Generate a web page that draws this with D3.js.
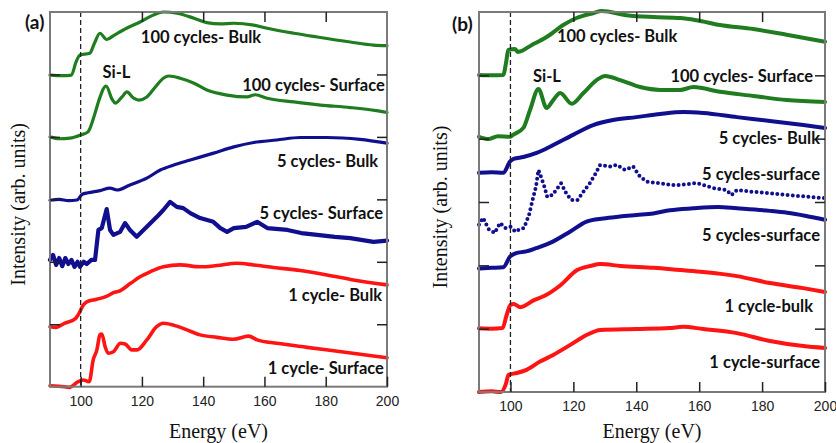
<!DOCTYPE html>
<html>
<head>
<meta charset="utf-8">
<script src="https://cdn.jsdelivr.net/npm/d3@7"></script>
<style>
  body { margin: 0; background: #fff; }
  svg text { font-family: "Liberation Sans", Arial, sans-serif; }
  .lbl { font-family: Lato, "Noto Sans", sans-serif; font-weight: bold; font-size: 16.5px; fill: #111; }
  .ttl { font-family: "Liberation Serif", "Times New Roman", serif; font-size: 20px; fill: #111; }
</style>
</head>
<body>
<svg width="836" height="443"></svg>
<script>
/*global d3*/

// x ticks shared by both panels
var energyTicks = [100, 120, 140, 160, 180, 200];
var intensityTicks = [0, 1, 2, 3, 4, 5, 6];

// ---- panel (a) spectra, [energy eV, intensity arb.]
var aBulk100 = [[90,4.99],[94,4.98],[97,4.99],[98.5,5.2],[99.8,5.31],[103,5.34],[104.5,5.5],[106.3,5.66],[108.5,5.56],[111,5.63],[115,5.74],[119.4,5.84],[123.7,5.95],[127,6.0],[131.5,5.98],[137,5.90],[141.2,5.83],[145.6,5.81],[150,5.82],[156.5,5.79],[160.9,5.74],[169.6,5.66],[177.2,5.60],[188,5.52],[195.6,5.47],[200,5.46]];
var aSurf100 = [[90,4.0],[93,3.97],[96.5,3.98],[100,4.03],[102.4,4.08],[104.7,4.38],[106,4.59],[108.3,4.815],[110.3,4.6],[111.3,4.54],[113.5,4.64],[115.1,4.72],[117.3,4.62],[119,4.59],[121.6,4.64],[124.4,4.80],[127,4.94],[128.8,4.975],[132.5,4.94],[137,4.86],[141.2,4.75],[147.8,4.67],[154.3,4.64],[157,4.675],[160.9,4.62],[169.6,4.56],[178.3,4.51],[188,4.47],[196.5,4.42],[200,4.39]];
var aBulk5 = [[90,2.985],[93,3.0],[96,2.98],[98.8,2.99],[100.5,3.08],[102.4,3.105],[106.3,3.14],[109.6,3.18],[111.8,3.15],[116.1,3.23],[121.6,3.34],[126,3.47],[130.4,3.55],[135.8,3.63],[143.4,3.74],[150,3.84],[156.5,3.91],[164,3.95],[171.7,3.99],[180.4,3.99],[191.2,3.96],[200,3.90]];
var aSurf5 = [[90,2.03],[91,2.11],[92,1.95],[93,2.06],[94,1.93],[95,2.06],[96,1.965],[97,2.03],[98,1.92],[99,2.0],[99.8,1.92],[101,2.0],[102,1.965],[103.5,2.03],[104.7,2.03],[105.8,2.51],[106.9,2.54],[108.5,2.845],[109.6,2.51],[110.7,2.43],[112.9,2.48],[114.5,2.62],[116.1,2.51],[118.3,2.40],[121.6,2.56],[124.9,2.72],[127,2.83],[129.2,2.96],[131.4,2.88],[133.5,2.86],[135.8,2.78],[139,2.70],[143.3,2.64],[145.6,2.54],[147.8,2.48],[150,2.54],[154,2.56],[157.6,2.64],[160.9,2.54],[167.5,2.51],[172,2.46],[177.2,2.43],[183,2.40],[188,2.38],[195.6,2.32],[200,2.34]];
var aBulk1 = [[90,0.96],[92,0.95],[94.7,1.015],[98.2,1.085],[99.2,1.15],[100.9,1.31],[102,1.36],[105.3,1.40],[108.6,1.45],[110.7,1.505],[113,1.54],[116.3,1.655],[119.4,1.76],[122.7,1.84],[127,1.92],[132.5,1.95],[139,1.92],[144.5,1.94],[151,1.976],[156.5,1.95],[163,1.91],[171.7,1.86],[180.4,1.79],[189,1.71],[200,1.63]];
var aSurf1 = [[90,0.016],[94.7,0.0],[96.3,-0.01],[99.2,0.08],[100.9,0.107],[102.8,0.08],[104.1,0.43],[105.3,0.59],[106.3,0.83],[106.9,0.845],[108,0.64],[109,0.535],[110.7,0.56],[113,0.695],[114.5,0.685],[116.7,0.59],[118.4,0.59],[121.6,0.75],[124.8,0.96],[127,1.015],[131.4,0.97],[134.7,0.91],[139,0.83],[144.5,0.79],[149.9,0.76],[154.8,0.81],[157.6,0.75],[164.1,0.695],[173.9,0.63],[182.6,0.575],[191.3,0.52],[200,0.465]];

// ---- panel (b) spectra
var bBulk100 = [[90,5.005],[94,5.0],[97.7,5.005],[98.6,5.2],[99.3,5.40],[101.4,5.415],[102.4,5.37],[106.8,5.48],[111.5,5.605],[116.8,5.795],[121,5.905],[126.5,5.985],[129,6.016],[136.9,5.95],[145.4,5.92],[153.9,5.905],[159.2,5.87],[166.6,5.795],[177.2,5.73],[187.8,5.64],[200,5.53]];
var bSurf100 = [[90,4.03],[93,3.995],[96,4.04],[100,4.03],[100.8,4.06],[104.1,4.17],[106.2,4.45],[108.9,4.785],[111.5,4.485],[113.6,4.61],[115.8,4.72],[119.5,4.55],[123.2,4.72],[127.4,4.925],[130.1,4.99],[134.9,4.925],[141.2,4.815],[147.6,4.77],[153.9,4.77],[158.2,4.815],[166.6,4.74],[177.2,4.675],[187.8,4.61],[200,4.58]];
var bBulk5 = [[90,3.46],[94,3.47],[97.7,3.46],[99.9,3.64],[101,3.68],[104.1,3.71],[108.3,3.775],[113.6,3.90],[119.9,4.06],[126.3,4.215],[132.6,4.295],[140,4.34],[147.6,4.39],[155,4.42],[161.3,4.405],[172,4.34],[182.5,4.28],[193.1,4.215],[200,4.17]];
var bSurf5Dots = [[90,2.64],[91.3,2.75],[93,2.575],[95,2.51],[96.7,2.67],[98.4,2.59],[100,2.61],[101.6,2.53],[103,2.575],[104.3,2.59],[105.9,2.795],[106.9,3.005],[108.1,3.24],[108.9,3.505],[109.7,3.40],[110.8,3.24],[111.7,3.08],[113.3,3.11],[114.9,3.215],[116.1,3.295],[117.7,3.14],[119.3,3.03],[121.3,3.03],[123.6,3.19],[125.2,3.295],[126.8,3.425],[128.5,3.585],[131.6,3.56],[133.8,3.585],[136.4,3.505],[139,3.56],[141.2,3.40],[143.4,3.32],[147.6,3.295],[150.7,3.27],[153.9,3.27],[159.2,3.30],[164.5,3.22],[168.7,3.19],[170.3,3.11],[172,3.19],[177.2,3.16],[182.5,3.14],[187.8,3.11],[193.1,3.09],[200,3.06]];
var bSurf5 = [[90,1.95],[94,1.96],[97.7,1.97],[99.9,2.14],[101.6,2.19],[105,2.22],[108.1,2.27],[113.3,2.37],[118.9,2.53],[124.2,2.69],[129.5,2.74],[134.8,2.77],[140.1,2.795],[145.4,2.82],[150.7,2.87],[158,2.9],[166,2.92],[172,2.9],[182.5,2.86],[188,2.83],[194,2.78],[200,2.72]];
var bBulk1 = [[90,1.005],[94,1.0],[97.5,1.01],[98.7,1.2],[100,1.375],[101,1.39],[103.2,1.34],[107.5,1.45],[110.7,1.515],[116,1.69],[121.2,1.925],[125.4,1.99],[128.6,2.02],[135,1.99],[145.6,1.96],[154,1.925],[161.3,1.895],[172,1.83],[182.5,1.72],[193.1,1.64],[200,1.58]];
var bSurf1 = [[90,0.0],[94,0.01],[97,0.0],[98.5,0.12],[99.4,0.27],[102,0.30],[105.1,0.35],[109.4,0.48],[113.6,0.585],[118.9,0.74],[124.2,0.90],[128.6,0.98],[140,0.995],[150.6,1.01],[154.8,1.03],[161.3,0.995],[172,0.93],[182.5,0.805],[193.1,0.725],[200,0.695]];

// curve labels
var aLabels = ["100 cycles- Bulk", "Si-L", "100 cycles- Surface", "5 cycles- Bulk", "5 cycles- Surface", "1 cycle- Bulk", "1 cycle- Surface"];
var bLabels = ["100 cycles- Bulk", "Si-L", "100 cycles- Surface", "5 cycles- Bulk", "5 cycles-surface", "5 cycles-surface", "1 cycle-bulk", "1 cycle-surface"];

var green = "#1f7d1f", blue = "#10108f", red = "#ff1414";

var svg = d3.select("svg");

function drawPanel(p) {
    var x = d3.scaleLinear().domain([90, 200]).range([p.left, p.right]);
    var y = d3.scaleLinear().domain([0, 6]).range([p.bottom, p.top]);
    var g = svg.append("g");

    var smooth = d3.line()
        .x(function(d) { return x(d[0]); })
        .y(function(d) { return y(d[1]); })
        .curve(d3.curveMonotoneX);
    var jagged = d3.line()
        .x(function(d) { return x(d[0]); })
        .y(function(d) { return y(d[1]); });

    // spectra
    p.curves.forEach(function(c) {
        g.append("path")
            .datum(c.data)
            .attr("d", c.noisy ? jagged : smooth)
            .attr("fill", "none")
            .attr("stroke", c.color)
            .attr("stroke-width", c.width)
            .attr("stroke-linejoin", "round")
            .attr("stroke-linecap", "round")
            .attr("stroke-dasharray", c.dash || null);
    });

    // Si L-edge marker at 100 eV
    g.append("line")
        .attr("x1", x(100)).attr("x2", x(100))
        .attr("y1", p.top).attr("y2", p.bottom)
        .attr("stroke", "#222")
        .attr("stroke-width", 1.3)
        .attr("stroke-dasharray", "5,3");

    // frame
    g.append("rect")
        .attr("x", p.left).attr("y", p.top)
        .attr("width", p.right - p.left).attr("height", p.bottom - p.top)
        .attr("fill", "none")
        .attr("stroke", "#7a7a7a")
        .attr("stroke-width", 2);

    // inward ticks on all four sides
    var bottom = g.append("g")
        .attr("transform", "translate(0," + p.bottom + ")")
        .call(d3.axisBottom(x).tickValues(energyTicks).tickSizeInner(-10).tickSizeOuter(0).tickPadding(9));
    bottom.selectAll("text").attr("font-size", 14).attr("fill", "#222")
        .style("font-family", "'Liberation Sans', Arial, sans-serif");

    g.append("g")
        .attr("transform", "translate(0," + p.top + ")")
        .call(d3.axisTop(x).tickValues(energyTicks.slice(1, 5)).tickSizeInner(-10).tickSizeOuter(0).tickFormat(""));
    g.append("g")
        .attr("transform", "translate(" + p.left + ",0)")
        .call(d3.axisLeft(y).tickValues(intensityTicks.slice(1, 6)).tickSizeInner(-10).tickSizeOuter(0).tickFormat(""));
    g.append("g")
        .attr("transform", "translate(" + p.right + ",0)")
        .call(d3.axisRight(y).tickValues(intensityTicks.slice(1, 6)).tickSizeInner(-10).tickSizeOuter(0).tickFormat(""));

    g.selectAll(".domain").remove();
    g.selectAll(".tick line").attr("stroke", "#222").attr("stroke-width", 1.5);

    // curve labels
    p.labels.forEach(function(t, i) {
        var pos = p.labelPos[i];
        g.append("text")
            .attr("class", "lbl")
            .attr("x", x(pos[0]))
            .attr("y", y(pos[1]))
            .attr("text-anchor", pos[2])
            .text(t);
    });

    // panel letter
    g.append("text")
        .attr("class", "lbl")
        .style("font-size", "19px")
        .attr("x", p.letterX).attr("y", p.letterY)
        .text(p.letter);

    // axis titles
    g.append("text")
        .attr("class", "ttl")
        .attr("x", (p.left + p.right) / 2)
        .attr("y", 438)
        .attr("text-anchor", "middle")
        .text("Energy (eV)");
    g.append("text")
        .attr("class", "ttl")
        .attr("transform", "translate(" + p.yTitleX + "," + ((p.top + p.bottom) / 2 + 5) + ") rotate(-90)")
        .attr("text-anchor", "middle")
        .text("Intensity (arb. units)");
}

drawPanel({
    left: 50, right: 387, top: 12, bottom: 386.7,
    letter: "(a)", letterX: 25, letterY: 29,
    yTitleX: 25,
    curves: [
        { data: aBulk100, color: green, width: 3.2 },
        { data: aSurf100, color: green, width: 3.2 },
        { data: aBulk5, color: blue, width: 3.2 },
        { data: aSurf5, color: blue, width: 4.2, noisy: true },
        { data: aBulk1, color: red, width: 3.6 },
        { data: aSurf1, color: red, width: 3.6 }
    ],
    labels: aLabels,
    labelPos: [[139.3, 5.50, "middle"], [111.7, 4.94, "middle"], [199.3, 4.73, "end"], [197.1, 3.525, "end"],
               [198.7, 2.685, "end"], [198.4, 1.365, "end"], [199, 0.20, "end"]]
});

drawPanel({
    left: 479, right: 825, top: 12, bottom: 392,
    letter: "(b)", letterX: 452, letterY: 31,
    yTitleX: 447,
    curves: [
        { data: bBulk100, color: green, width: 4 },
        { data: bSurf100, color: green, width: 4 },
        { data: bBulk5, color: blue, width: 4 },
        { data: bSurf5Dots, color: blue, width: 4, dash: "0,5.2", noisy: true },
        { data: bSurf5, color: blue, width: 4 },
        { data: bBulk1, color: red, width: 4 },
        { data: bSurf1, color: red, width: 4 }
    ],
    labels: bLabels,
    labelPos: [[133.9, 5.52, "middle"], [111.6, 4.90, "middle"], [196.2, 4.90, "end"], [198.4, 3.92, "end"],
               [198.4, 3.355, "end"], [198.4, 2.385, "end"], [196.2, 1.265, "end"], [198.4, 0.38, "end"]]
});
</script>
</body>
</html>
